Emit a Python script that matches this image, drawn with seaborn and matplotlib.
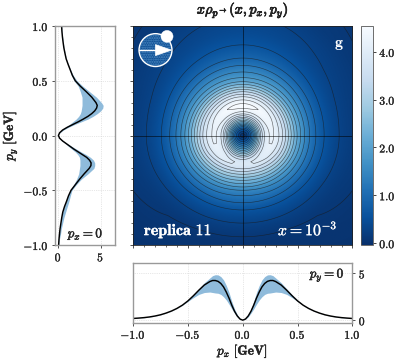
import numpy as np
import seaborn as sns
import matplotlib.pyplot as plt
import matplotlib.patheffects as pe
from matplotlib.patches import Circle, Polygon
from matplotlib.ticker import MultipleLocator

# values, same radial grid for every slice
p_grid = [0, .025, .05, .075, .1, .125, .15, .175, .2, .225, .25, .275, .3, .35, .4, .45, .5,
          .55, .6, .65, .7, .75, .8, .85, .9, .95, 1.0, 1.2, 1.45]
# py = 0 slice, along px
px_mid = [0, .12, .45, .95, 1.6, 2.35, 3.0, 3.55, 3.92, 4.14, 4.23, 4.23, 4.12, 3.75, 3.2, 2.6, 2.05,
          1.6, 1.25, .97, .75, .57, .44, .34, .27, .22, .18, .08, .04]
px_hi = [0, .15, .6, 1.2, 2.0, 2.95, 3.7, 4.3, 4.65, 4.83, 4.85, 4.75, 4.5, 4.0, 3.35, 2.7, 2.1,
         1.62, 1.26, .98, .76, .58, .45, .35, .28, .23, .19, .08, .04]
px_lo = [0, .1, .35, .75, 1.2, 1.7, 2.15, 2.5, 2.75, 2.87, 2.9, 2.95, 3.0, 2.95, 2.75, 2.4, 2.0,
         1.58, 1.24, .96, .74, .56, .43, .33, .26, .21, .17, .08, .04]
# px = 0 slice, py > 0
up_mid = [0, .15, .5, 1.05, 1.7, 2.35, 2.95, 3.5, 3.95, 4.3, 4.52, 4.6, 4.45, 3.95, 3.3, 2.6, 2.0,
          1.65, 1.4, 1.15, .92, .78, .65, .56, .48, .42, .38, .2, .1]
up_hi = [0, .18, .6, 1.2, 1.9, 2.7, 3.5, 4.1, 4.6, 5.0, 5.25, 5.3, 5.1, 4.5, 3.7, 2.9, 2.2,
         1.75, 1.45, 1.17, .94, .8, .67, .58, .5, .44, .4, .2, .1]
up_lo = [0, .12, .4, .85, 1.3, 1.7, 2.1, 2.4, 2.6, 2.7, 2.75, 2.8, 2.8, 2.8, 2.6, 2.35, 1.85,
         1.55, 1.35, 1.13, .9, .76, .63, .54, .46, .4, .36, .2, .1]
# px = 0 slice, py < 0
down_mid = [0, .15, .5, .95, 1.4, 1.85, 2.35, 2.85, 3.35, 3.68, 3.87, 3.85, 3.65, 3.05, 2.5, 2.0, 1.5,
            1.2, .97, .72, .52, .4, .3, .2, .13, .07, .03, .01, 0]
down_hi = [0, .17, .55, 1.05, 1.6, 2.15, 2.7, 3.3, 3.8, 4.15, 4.3, 4.3, 4.2, 3.5, 2.7, 2.1, 1.6,
           1.42, 1.25, 1.05, .85, .65, .5, .35, .25, .12, .05, .01, 0]
down_lo = [0, .13, .45, .85, 1.2, 1.6, 2.0, 2.3, 2.5, 2.55, 2.55, 2.55, 2.5, 2.4, 2.15, 1.8, 1.4,
           1.12, .9, .68, .5, .38, .28, .18, .11, .05, .02, .01, 0]

contour_levels = [.1, .3, .6, .9, 1.2, 1.5, 1.8, 2.1, 2.4, 2.7, 3.0, 3.3, 3.6, 3.9, 4.2, 4.5]
axis_ticks = [-1.0, -0.5, 0.0, 0.5, 1.0]
axis_labels = [r'$\mathbf{-1.0}$', r'$\mathbf{-0.5}$', r'$\mathbf{0.0}$', r'$\mathbf{0.5}$', r'$\mathbf{1.0}$']
cbar_ticks = [0, 1, 2, 3, 4]
cbar_labels = [r'$\mathbf{0.0}$', r'$\mathbf{1.0}$', r'$\mathbf{2.0}$', r'$\mathbf{3.0}$', r'$\mathbf{4.0}$']

sns.set_theme(style='ticks')
plt.rcParams['mathtext.fontset'] = 'cm'
plt.rcParams['font.family'] = ['cmb10', 'DejaVu Serif']
plt.rcParams['axes.formatter.use_mathtext'] = True

W, H = 399, 362
GRAY = '#999999'
BAND = '#8fbbdb'
FS = 8.4
bold = [pe.withStroke(linewidth=0.3, foreground='#222222')]
title_bold = [pe.withStroke(linewidth=0.55, foreground='#222222')]
bold_w = [pe.withStroke(linewidth=0.2, foreground='white')]
tick_bold = [pe.withStroke(linewidth=0.2, foreground='#222222')]


def box(left, top, right, bottom):
    return [left / W, 1 - bottom / H, (right - left) / W, (bottom - top) / H]


fig = plt.figure(figsize=(W / 100, H / 100), dpi=100)
ax = fig.add_axes(box(133, 26, 352.5, 245))
ax_left = fig.add_axes(box(55, 26, 115, 245))
ax_bot = fig.add_axes(box(133, 263, 352.5, 322.5))
cax = fig.add_axes(box(360.5, 26, 373, 245))

# 2d field: blend the read slices by angle
grid = np.linspace(-1, 1, 501)
PX, PY = np.meshgrid(grid, grid)
R = np.hypot(PX, PY)
w_y = np.divide(PY**2, R**2, out=np.zeros_like(R), where=R > 0)
slice_x = np.interp(R, p_grid, px_mid)
slice_y = np.where(PY > 0, np.interp(R, p_grid, up_mid), np.interp(R, p_grid, down_mid))
field = (1 - w_y) * slice_x + w_y * slice_y

cmap = sns.color_palette('Blues_r', as_cmap=True)
im = ax.imshow(field, extent=[-1, 1, -1, 1], origin='lower', cmap=cmap, vmin=-0.04, vmax=4.54, aspect='auto')
ax.contour(PX, PY, field, levels=contour_levels, colors='#1a1a1a', linewidths=0.45, alpha=0.65)
ax.axhline(0, color='black', lw=0.5, alpha=0.75)
ax.axvline(0, color='black', lw=0.5, alpha=0.75)
ax.set_xlim(-1, 1)
ax.set_ylim(-1, 1)
ax.set_xticks(axis_ticks)
ax.set_yticks(axis_ticks)
ax.xaxis.set_minor_locator(MultipleLocator(0.1))
ax.yaxis.set_minor_locator(MultipleLocator(0.1))
ax.tick_params(which='both', labelleft=False, labelbottom=False, length=2.5, width=0.6, color='#333333')
ax.tick_params(which='minor', length=1.5, width=0.5)
for s in ax.spines.values():
    s.set_linewidth(0.6)
    s.set_color('#222222')

ax.set_title(r'$x\rho_{p^{\rightarrow}}(x, p_x, p_y)$', fontsize=10.3, pad=9, path_effects=title_bold)
ax.text(0.83, 0.81, r'$\mathbf{g}$', color='white', fontsize=11.5)
ax.text(-0.9, -0.91, r'$\mathbf{replica\ 11}$', color='white', fontsize=11.5, path_effects=bold_w)
ax.text(0.32, -0.91, r'$x = \mathbf{10}^{-3}$', color='white', fontsize=11.5, path_effects=bold_w)

# proton icon
ax.add_patch(Circle((-0.795, 0.78), 0.15, facecolor='#0f4f94', edgecolor='#4d8ac2', hatch='.......', lw=0, zorder=5))
ax.add_patch(Circle((-0.795, 0.78), 0.15, facecolor='none', edgecolor='white', lw=1.0, zorder=6))
ax.plot([-0.945, -0.795], [0.78, 0.78], color='white', lw=1.0, zorder=6)
ax.add_patch(Polygon([(-0.795, 0.83), (-0.795, 0.73), (-0.65, 0.78)], facecolor='white', edgecolor='white', lw=0.5, zorder=7))
ax.add_patch(Circle((-0.69, 0.905), 0.055, facecolor='white', edgecolor='white', lw=0.3, zorder=8))

# colorbar
cb = fig.colorbar(im, cax=cax)
cb.set_ticks(cbar_ticks)
cb.set_ticklabels(cbar_labels)
cb.ax.tick_params(labelsize=FS, length=2.5, width=0.6, pad=2)
cb.outline.set_linewidth(0.6)
cb.outline.set_edgecolor('#555555')
plt.setp(cb.ax.get_yticklabels(), path_effects=tick_bold)

# left slice at px = 0
g = np.array(p_grid)
py_vals = np.concatenate([-g[::-1], g[1:]])
py_mid = down_mid[::-1] + up_mid[1:]
py_hi = down_hi[::-1] + up_hi[1:]
py_lo = down_lo[::-1] + up_lo[1:]
ax_left.fill_betweenx(py_vals, py_lo, py_hi, color=BAND, lw=0)
sns.lineplot(x=py_mid, y=py_vals, orient='y', color='black', lw=1.05, ax=ax_left, errorbar=None)
ax_left.set_xlim(-0.4, 6.7)
ax_left.set_ylim(-1, 1)
ax_left.set_xticks([0, 5])
ax_left.set_xticklabels([r'$\mathbf{0}$', r'$\mathbf{5}$'])
ax_left.set_yticks(axis_ticks)
ax_left.set_yticklabels(axis_labels)
ax_left.set_ylabel(r'$p_y\ \mathbf{[GeV]}$', fontsize=9.5, labelpad=3, path_effects=bold)
ax_left.text(1.1, -0.93, r'$p_x = \mathbf{0}$', fontsize=9.5, path_effects=bold)

# bottom slice at py = 0
px_vals = np.concatenate([-g[::-1], g[1:]])
ax_bot.fill_between(px_vals, px_lo[::-1] + px_lo[1:], px_hi[::-1] + px_hi[1:], color=BAND, lw=0)
sns.lineplot(x=px_vals, y=px_mid[::-1] + px_mid[1:], color='black', lw=1.05, ax=ax_bot, errorbar=None)
ax_bot.set_xlim(-1, 1)
ax_bot.set_ylim(-0.25, 6.1)
ax_bot.set_xticks(axis_ticks)
ax_bot.set_xticklabels(axis_labels)
ax_bot.set_yticks([0, 5])
ax_bot.set_yticklabels([r'$\mathbf{0}$', r'$\mathbf{5}$'])
ax_bot.yaxis.tick_right()
ax_bot.set_xlabel(r'$p_x\ \mathbf{[GeV]}$', fontsize=9.5, labelpad=1.5, path_effects=bold)
ax_bot.text(0.61, 4.55, r'$p_y = \mathbf{0}$', fontsize=9.5, path_effects=bold)

for a in (ax_left, ax_bot):
    a.grid(True, color='#d0d0d0', lw=0.5, ls=':')
    a.set_axisbelow(True)
    a.tick_params(labelsize=FS, length=2.5, width=0.6, pad=2, color='#333333')
    plt.setp(a.get_xticklabels() + a.get_yticklabels(), path_effects=tick_bold)
    for s in a.spines.values():
        s.set_linewidth(1.0)
        s.set_color(GRAY)

fig.savefig('out.png', dpi=100)
